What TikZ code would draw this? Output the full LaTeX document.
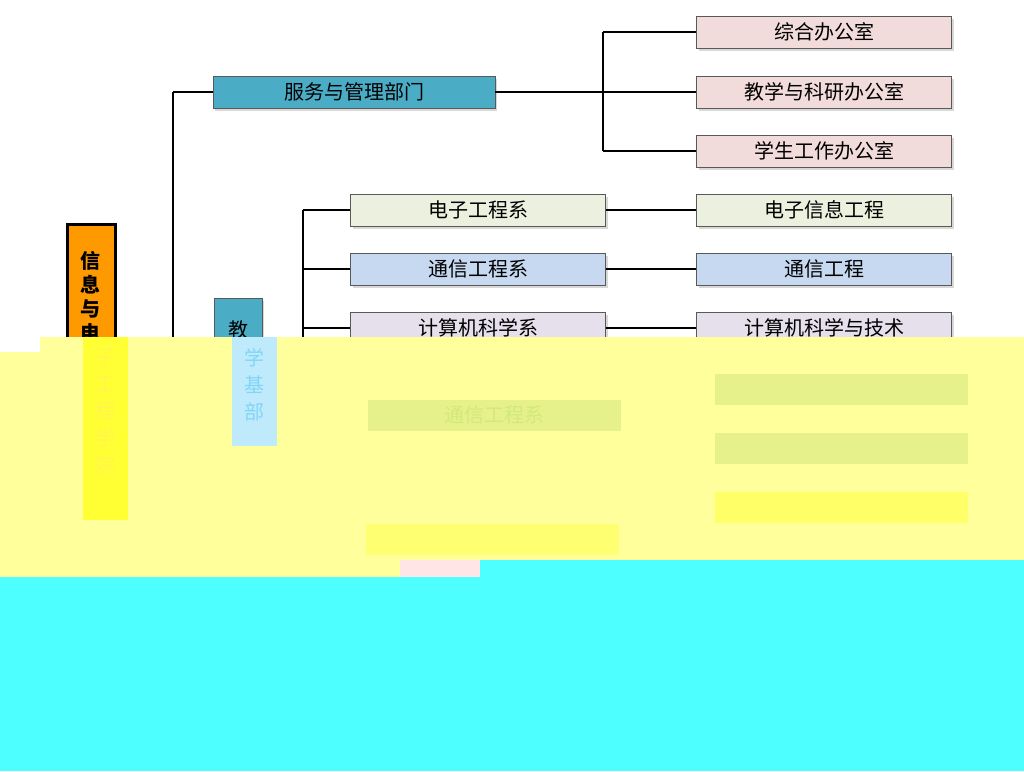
\documentclass[tikz,border=0pt]{standalone}
\usepackage{fontspec}
\setmainfont{Noto Sans CJK SC}
\usetikzlibrary{shadows}
\definecolor{teal1}{HTML}{4BACC6}
\definecolor{pink1}{HTML}{F2DCDB}
\definecolor{green1}{HTML}{EBF1DE}
\definecolor{blue1}{HTML}{C6D9F0}
\definecolor{purp1}{HTML}{E5E0EC}
\definecolor{yel1}{HTML}{FFFF9C}
\definecolor{yel2}{HTML}{FFFF33}
\definecolor{cyan1}{HTML}{4DFFFF}
\tikzset{
 bx/.style={draw=gray!70!black,line width=0.6pt,minimum height=32pt,inner sep=0pt,font=\fontsize{20}{20}\selectfont,drop shadow={shadow xshift=2pt,shadow yshift=-3pt,fill=gray!60}},
 wide/.style={bx,minimum width=255pt},
 ln/.style={line width=2pt},
 ghost/.style={fill=#1,draw=none,minimum height=31pt,minimum width=253pt,inner sep=0pt,font=\fontsize{20}{20}\selectfont}
}
\begin{document}
\begin{tikzpicture}[x=1pt,y=-1pt]
\useasboundingbox (0,0) rectangle (1024,771);
\fill[white] (0,0) rectangle (1024,771);
% root
\node[draw=black,line width=2.5pt,fill=orange!80!yellow,minimum width=48pt,minimum height=230pt,anchor=north west,inner sep=0pt] (root) at (66,223) {};
\node[font=\bfseries\fontsize{20}{24}\selectfont,anchor=north,align=center] (roott) at (90,248) {信\\息\\与\\电};
\coordinate (t1) at (173,92);
\coordinate (t2) at (173,340);
\draw[ln] (t1) -- (t2);
\node[bx,fill=teal1,minimum width=282pt] (fw) at (354,92) {服务与管理部门};
\draw[ln] (t1) -- (fw.west);
\node[bx,fill=teal1,minimum width=48pt,minimum height=150pt,anchor=north west] (jx) at (214,298) {};
\node[font=\fontsize{20}{20}\selectfont] (jxt) at (238,330) {教};
\coordinate (j1) at (603,32);
\coordinate (j2) at (603,151);
\draw[ln] (fw.east) -- (603,92);
\draw[ln] (j1) -- (j2);
\node[wide,fill=pink1] (a1) at (824,32) {综合办公室};
\node[wide,fill=pink1] (a2) at (824,92) {教学与科研办公室};
\node[wide,fill=pink1] (a3) at (824,151) {学生工作办公室};
\draw[ln] (j1) -- (a1.west); \draw[ln] (603,92) -- (a2.west); \draw[ln] (j2) -- (a3.west);
\coordinate (k1) at (303,210);
\coordinate (k2) at (303,345);
\draw[ln] (k1) -- (k2);
\node[wide,fill=green1] (b1) at (478,210) {电子工程系};
\node[wide,fill=blue1] (b2) at (478,269) {通信工程系};
\node[wide,fill=purp1] (b3) at (478,328) {计算机科学系};
\node[wide,fill=green1] (c1) at (824,210) {电子信息工程};
\node[wide,fill=blue1] (c2) at (824,269) {通信工程};
\node[wide,fill=purp1] (c3) at (824,328) {计算机科学与技术};
\draw[ln] (k1) -- (b1.west); \draw[ln] (303,269) -- (b2.west); \draw[ln] (303,328) -- (b3.west);
\draw[ln] (b1) -- (c1); \draw[ln] (b2) -- (c2); \draw[ln] (b3) -- (c3);
% overlays
\fill[yel1] (40,337) -- (1024,337) -- (1024,560) -- (0,560) -- (0,352) -- (40,352) -- cycle;
\fill[yel1] (0,560) rectangle (400,577);
\fill[yel2] (83,337) rectangle (128,520);
\node[font=\fontsize{20}{27}\selectfont,text=yellow!70!white,align=center,anchor=north] (g0) at (105,345) {子\\工\\程\\学\\院};
\fill[cyan!25!white] (232,337) rectangle (277,446);
\node[font=\fontsize{20}{27}\selectfont,text=cyan!50!white,align=center,anchor=north] (g1) at (254,345) {学\\基\\部};
\node[ghost=yellow!20!green!12!yel1,text=yellow!30!green!25!yel1] (h1) at (494,415) {通信工程系};
\node[ghost=yellow!20!green!12!yel1] (h2) at (841,389) {};
\node[ghost=yellow!20!green!12!yel1] (h3) at (841,448) {};
\node[ghost=yel2!50!yel1] (h4) at (841,507) {};
\node[ghost=yel2!40!yel1] (h5) at (492,539) {};
\fill[pink!40!white] (400,560) rectangle (480,577);
\fill[cyan1] (480,560) rectangle (1024,577);
\fill[cyan1] (0,577) rectangle (1024,771);
\end{tikzpicture}
\end{document}
